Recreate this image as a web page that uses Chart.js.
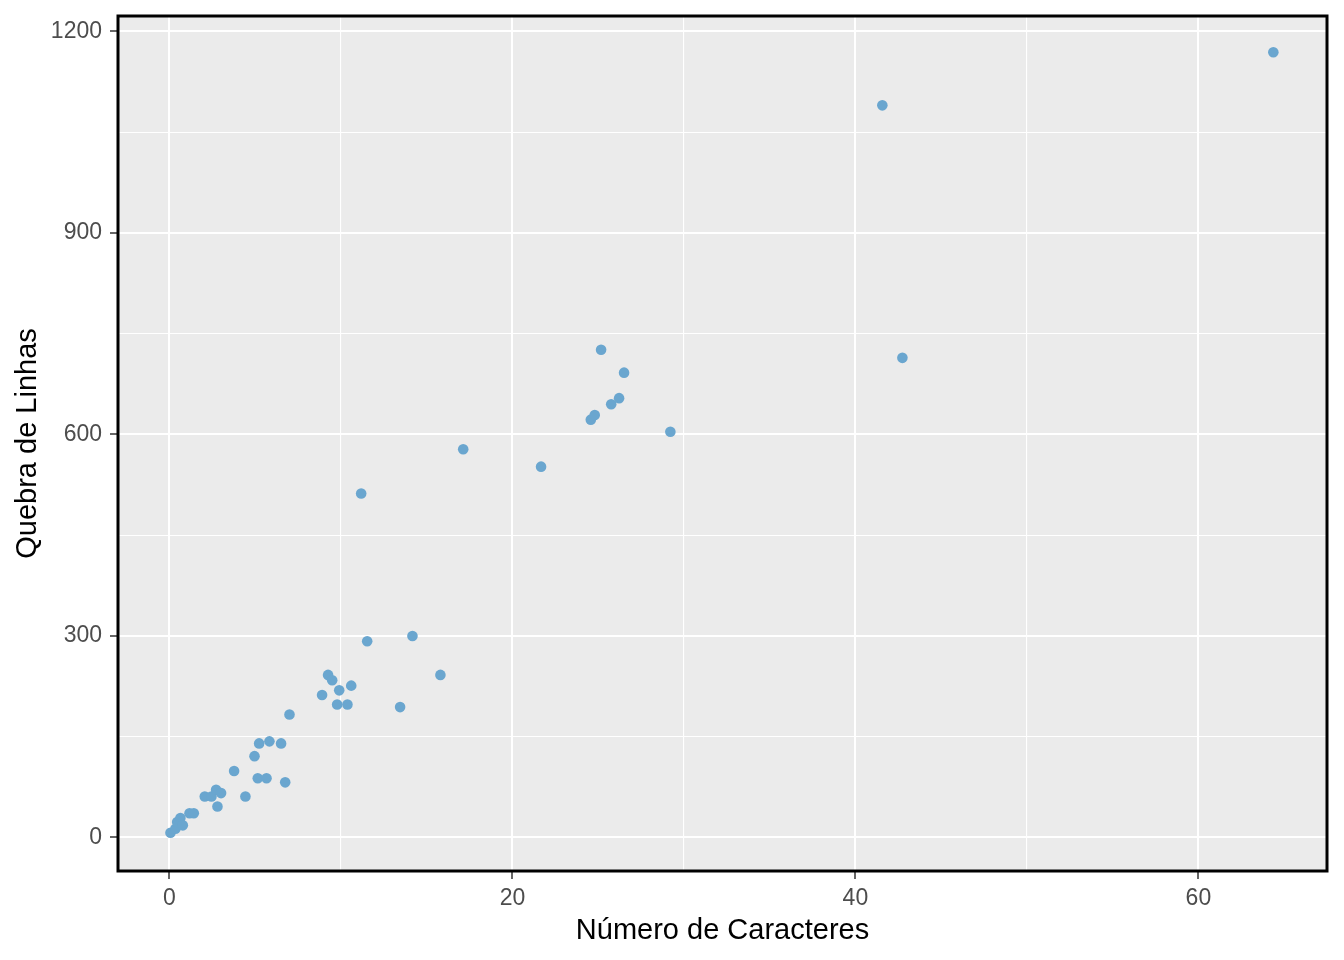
<!DOCTYPE html>
<html>
<head>
<meta charset="utf-8">
<script src="https://cdn.jsdelivr.net/npm/chart.js@4"></script>
<style>
  html, body { margin: 0; padding: 0; background: #fff; }
  #wrap { width: 1344px; height: 960px; }
</style>
</head>
<body>
<div id="wrap"><canvas id="myChart"></canvas></div>
<script>
// Número de caracteres vs quebra de linhas
const caracteres = [0.06, 0.35, 0.45, 0.64, 0.78, 1.17, 1.42, 2.06, 2.45, 2.72,
  3.01, 2.80, 3.77, 4.43, 4.96, 5.15, 5.66, 5.23, 5.83, 6.51,
  6.75, 7.00, 8.90, 9.25, 9.49, 9.78, 9.90, 10.38, 10.60, 11.18,
  11.53, 13.45, 14.17, 15.80, 17.13, 21.67, 24.57, 24.80, 25.17, 25.76,
  26.22, 26.51, 29.21, 41.57, 42.74, 64.37];
const quebras = [7, 13, 23, 29, 18, 36, 36, 61, 61, 71,
  66, 46, 99, 61, 121, 88, 88, 140, 143, 140,
  82, 183, 212, 242, 234, 198, 219, 198, 226, 512,
  292, 194, 300, 242, 578, 552, 622, 629, 726, 645,
  654, 692, 604, 1090, 714, 1169];

const xTicks = [0, 20, 40, 60];
const xMinor = [10, 30, 50];
const yTicks = [0, 300, 600, 900, 1200];
const yMinor = [150, 450, 750, 1050];

const isMajor = (list) => (c) => c.tick && list.includes(c.tick.value);

const setTicks = (major, minor) => scale => {
  scale.ticks = major.concat(minor).sort((a, b) => a - b).map(v => ({ value: v }));
};

// grey panel behind and black frame on top
const panel = {
  id: 'panel',
  beforeDraw(chart) {
    const { ctx, chartArea: a } = chart;
    ctx.save();
    ctx.fillStyle = '#EBEBEB';
    ctx.fillRect(a.left, a.top, a.right - a.left, a.bottom - a.top);
    ctx.restore();
  },
  afterDraw(chart) {
    const { ctx, chartArea: a } = chart;
    ctx.save();
    ctx.strokeStyle = '#000';
    ctx.lineWidth = 3;
    ctx.strokeRect(a.left, a.top, a.right - a.left, a.bottom - a.top);
    ctx.restore();
  }
};

const tickFont = { family: 'Liberation Sans', size: 23 };
const titleFont = { family: 'Liberation Sans', size: 29 };

let ctx = document.getElementById('myChart').getContext('2d');
let chart = new Chart(ctx, {
  type: 'scatter',
  data: {
    datasets: [{
      data: caracteres.map((x, i) => ({ x: x, y: quebras[i] })),
      backgroundColor: '#6AA6CF',
      borderWidth: 0,
      pointRadius: 5.3,
      pointHoverRadius: 5.3
    }]
  },
  options: {
    responsive: true,
    maintainAspectRatio: false,
    animation: false,
    layout: { padding: { top: 16, right: 17, left: 0, bottom: 0 } },
    plugins: { legend: { display: false }, tooltip: { enabled: false } },
    scales: {
      x: {
        type: 'linear',
        min: -3,
        max: 67.5,
        afterBuildTicks: setTicks(xTicks, xMinor),
        afterFit: s => { s.height = 89; s.paddingLeft = 0; s.paddingRight = 0; },
        border: { display: false },
        grid: {
          color: '#FFFFFF',
          lineWidth: c => isMajor(xTicks)(c) ? 2 : 1.1,
          tickColor: c => isMajor(xTicks)(c) ? '#333333' : 'rgba(0,0,0,0)',
          tickWidth: 1.5,
          tickLength: 8
        },
        ticks: {
          autoSkip: false,
          maxRotation: 0,
          padding: 6,
          color: '#4D4D4D',
          font: tickFont,
          callback: v => xTicks.includes(v) ? String(v) : ''
        },
        title: {
          display: true,
          text: 'Número de Caracteres',
          color: '#000',
          font: titleFont,
          padding: { top: 0, bottom: 12 }
        }
      },
      y: {
        type: 'linear',
        min: -50,
        max: 1223,
        afterBuildTicks: setTicks(yTicks, yMinor),
        afterFit: s => { s.width = 118; s.paddingTop = 0; s.paddingBottom = 0; },
        border: { display: false },
        grid: {
          color: '#FFFFFF',
          lineWidth: c => isMajor(yTicks)(c) ? 2 : 1.1,
          tickColor: c => isMajor(yTicks)(c) ? '#333333' : 'rgba(0,0,0,0)',
          tickWidth: 1.5,
          tickLength: 8
        },
        ticks: {
          autoSkip: false,
          padding: 8,
          color: '#4D4D4D',
          font: tickFont,
          callback: v => yTicks.includes(v) ? String(v) : ''
        },
        title: {
          display: true,
          text: 'Quebra de Linhas',
          color: '#000',
          font: titleFont,
          padding: { top: 11, bottom: 0 }
        }
      }
    }
  },
  plugins: [panel]
});
</script>
</body>
</html>
